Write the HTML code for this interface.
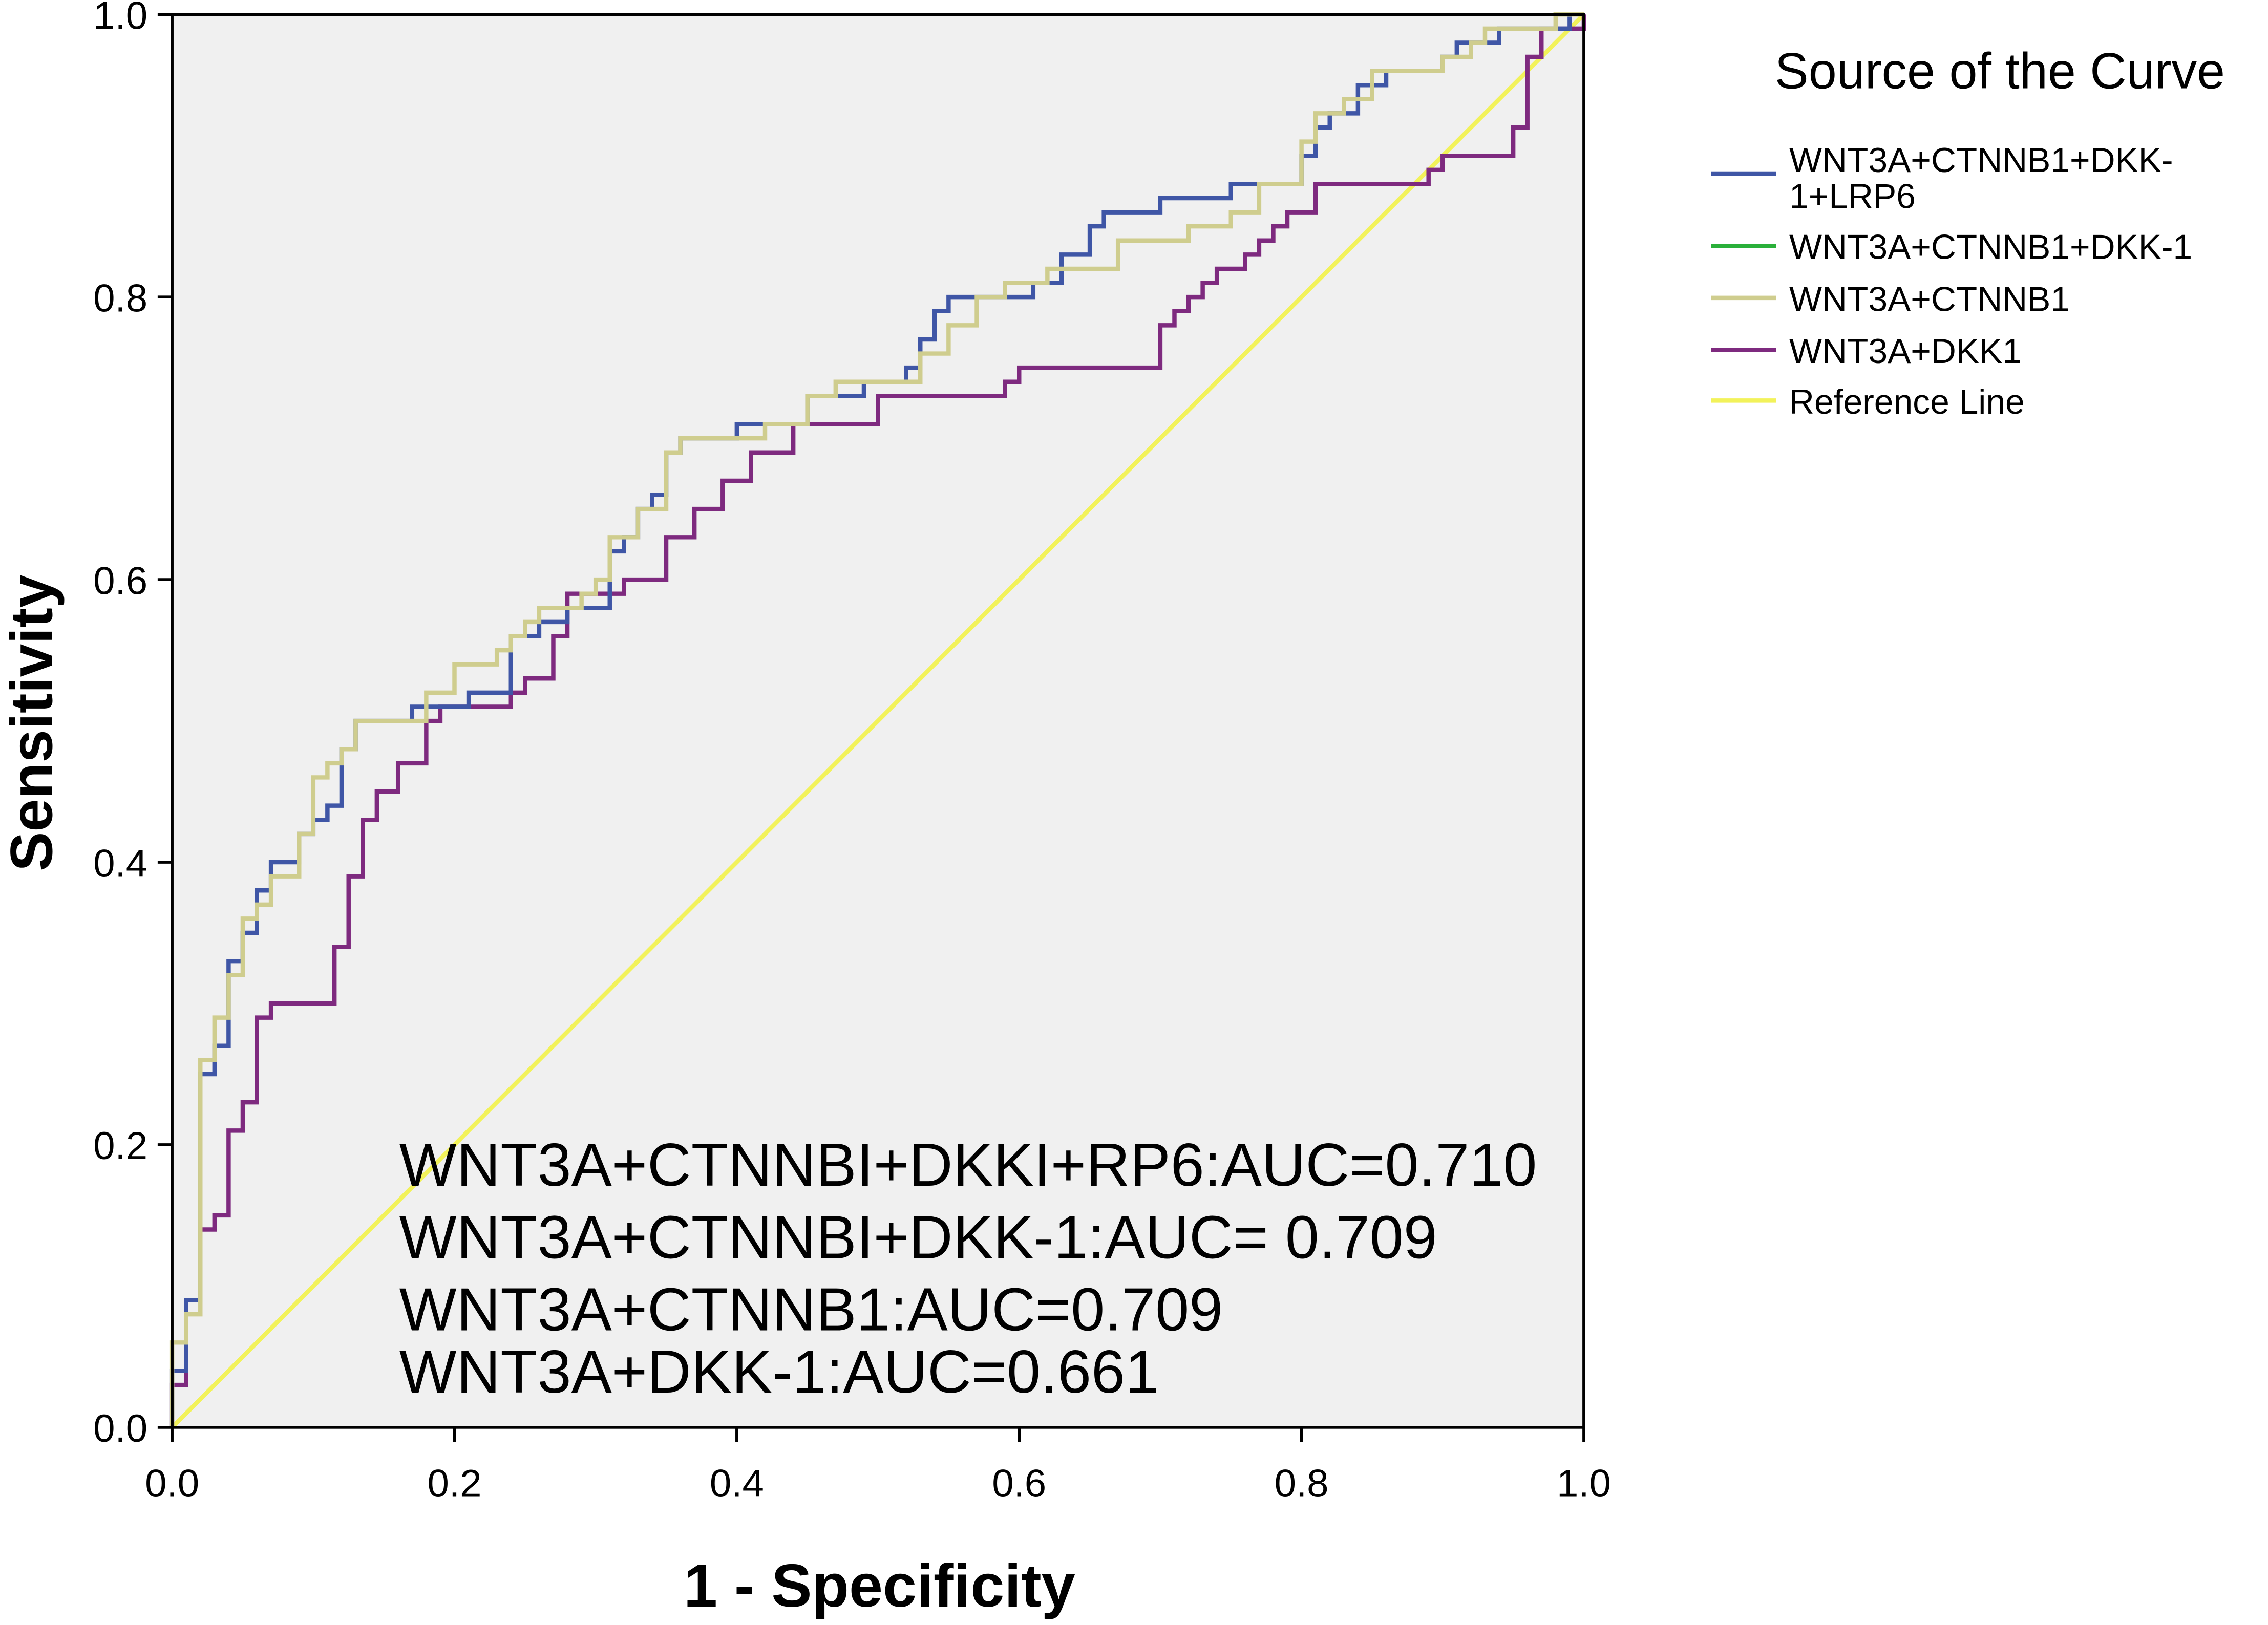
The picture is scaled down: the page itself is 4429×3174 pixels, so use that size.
<!DOCTYPE html>
<html><head><meta charset="utf-8"><style>
html,body{margin:0;padding:0;background:#fff;}
svg{display:block;font-family:"Liberation Sans",Arial,sans-serif;}
</style></head><body>
<svg width="4429" height="3174" viewBox="0 0 1568 1123.7" preserveAspectRatio="none" xmlns="http://www.w3.org/2000/svg">
<rect x="119" y="10" width="976" height="977" fill="#f0f0f0"/>
<g id="curves"></g>
<rect x="119" y="10" width="976" height="977" fill="none" stroke="#000" stroke-width="2"/>
<g id="axes"></g>
<text transform="translate(36,500) rotate(-90)" text-anchor="middle" font-size="41" font-weight="bold">Sensitivity</text>
<text x="608" y="1111" text-anchor="middle" font-size="42" font-weight="bold">1 - Specificity</text>
<g font-size="42" fill="#000">
<text x="276" y="820">WNT3A+CTNNBI+DKKI+RP6:AUC=0.710</text>
<text x="276" y="870">WNT3A+CTNNBI+DKK-1:AUC= 0.709</text>
<text x="276" y="920">WNT3A+CTNNB1:AUC=0.709</text>
<text x="276" y="963">WNT3A+DKK-1:AUC=0.661</text>
</g>
<g font-size="24">
<text x="1227" y="61" font-size="35">Source of the Curve</text>
<line x1="1183" y1="120" x2="1228" y2="120" stroke="#3f56a6" stroke-width="3"/>
<text x="1237" y="119">WNT3A+CTNNB1+DKK-</text>
<text x="1237" y="144">1+LRP6</text>
<line x1="1183" y1="170" x2="1228" y2="170" stroke="#2ab03a" stroke-width="3"/>
<text x="1237" y="179">WNT3A+CTNNB1+DKK-1</text>
<line x1="1183" y1="206" x2="1228" y2="206" stroke="#cfcd8e" stroke-width="3"/>
<text x="1237" y="215">WNT3A+CTNNB1</text>
<line x1="1183" y1="242" x2="1228" y2="242" stroke="#7e2a7f" stroke-width="3"/>
<text x="1237" y="251">WNT3A+DKK1</text>
<line x1="1183" y1="277" x2="1228" y2="277" stroke="#f2f25a" stroke-width="3"/>
<text x="1237" y="286">Reference Line</text>
</g>
</svg>
<script>
const ticks=[0,0.2,0.4,0.6,0.8,1.0];
const tickLabels=["0.0","0.2","0.4","0.6","0.8","1.0"];
const blueFpr=[0,0.01,0.02,0.03,0.04,0.05,0.06,0.07,0.09,0.10,0.11,0.12,0.13,0.17,0.21,0.24,0.26,0.28,0.31,0.32,0.33,0.34,0.35,0.36,0.40,0.45,0.49,0.52,0.53,0.54,0.55,0.61,0.63,0.65,0.66,0.70,0.75,0.80,0.81,0.82,0.84,0.86,0.90,0.91,0.94,0.99,1];
const blueTpr=[0.04,0.09,0.25,0.27,0.33,0.35,0.38,0.40,0.42,0.43,0.44,0.48,0.50,0.51,0.52,0.56,0.57,0.58,0.62,0.63,0.65,0.66,0.69,0.70,0.71,0.73,0.74,0.75,0.77,0.79,0.80,0.81,0.83,0.85,0.86,0.87,0.88,0.90,0.92,0.93,0.95,0.96,0.97,0.98,0.99,1.0,1.0];
const khakiFpr=[0,0.01,0.02,0.03,0.04,0.05,0.06,0.07,0.09,0.10,0.11,0.12,0.13,0.18,0.20,0.23,0.24,0.25,0.26,0.29,0.30,0.31,0.33,0.35,0.36,0.42,0.45,0.47,0.53,0.55,0.57,0.59,0.62,0.67,0.72,0.75,0.77,0.80,0.81,0.83,0.85,0.90,0.92,0.93,0.98,1];
const khakiTpr=[0.06,0.08,0.26,0.29,0.32,0.36,0.37,0.39,0.42,0.46,0.47,0.48,0.50,0.52,0.54,0.55,0.56,0.57,0.58,0.59,0.60,0.63,0.65,0.69,0.70,0.71,0.73,0.74,0.76,0.78,0.80,0.81,0.82,0.84,0.85,0.86,0.88,0.91,0.93,0.94,0.96,0.97,0.98,0.99,1.0,1.0];
const purpleFpr=[0,0.01,0.02,0.03,0.04,0.05,0.06,0.07,0.115,0.125,0.135,0.145,0.16,0.18,0.19,0.24,0.25,0.27,0.28,0.32,0.35,0.37,0.39,0.41,0.44,0.50,0.59,0.60,0.70,0.71,0.72,0.73,0.74,0.76,0.77,0.78,0.79,0.81,0.89,0.90,0.95,0.96,0.97,1];
const purpleTpr=[0.03,0.09,0.14,0.15,0.21,0.23,0.29,0.30,0.34,0.39,0.43,0.45,0.47,0.50,0.51,0.52,0.53,0.56,0.59,0.60,0.63,0.65,0.67,0.69,0.71,0.73,0.74,0.75,0.78,0.79,0.80,0.81,0.82,0.83,0.84,0.85,0.86,0.88,0.89,0.90,0.92,0.97,0.99,1.0];
const NS="http://www.w3.org/2000/svg";
const X=v=>119+976*v, Y=v=>987-977*v;
const curves=document.getElementById('curves'), axes=document.getElementById('axes');
function stepPath(fx,ty){let d="M"+X(0)+","+Y(0);for(let i=0;i<fx.length;i++){d+=" H"+X(fx[i])+" V"+Y(ty[i]);}return d;}
const ref=document.createElementNS(NS,'line');


ref.setAttribute('x1',X(0));ref.setAttribute('y1',Y(0));ref.setAttribute('x2',X(1));ref.setAttribute('y2',Y(1));
ref.setAttribute('stroke','#f2f25a');ref.setAttribute('stroke-width','3');curves.appendChild(ref);
const series=[[purpleFpr,purpleTpr,'#7e2a7f','wnt3a-dkk1-curve'],[blueFpr,blueTpr,'#3f56a6','wnt3a-ctnnb1-dkk1-lrp6-curve'],[blueFpr,blueTpr,'#2ab03a','wnt3a-ctnnb1-dkk1-curve'],[khakiFpr,khakiTpr,'#cfcd8e','wnt3a-ctnnb1-curve']];
series.forEach((s,i)=>{if(i===2)return;const p=document.createElementNS(NS,'path');


p.setAttribute('d',stepPath(s[0],s[1]));p.setAttribute('fill','none');p.setAttribute('stroke',s[2]);p.setAttribute('stroke-width','3');curves.appendChild(p);});
ticks.forEach((t,i)=>{
 const lx=document.createElementNS(NS,'line');
 
 
 lx.setAttribute('x1',X(t));lx.setAttribute('x2',X(t));lx.setAttribute('y1',987);lx.setAttribute('y2',997);lx.setAttribute('stroke','#000');lx.setAttribute('stroke-width','2');axes.appendChild(lx);
 const tx=document.createElementNS(NS,'text');
 
 
 tx.setAttribute('x',X(t));tx.setAttribute('y',1035);tx.setAttribute('text-anchor','middle');tx.setAttribute('font-size','27');tx.textContent=tickLabels[i];axes.appendChild(tx);
 const ly=document.createElementNS(NS,'line');
 
 
 ly.setAttribute('x1',109);ly.setAttribute('x2',119);ly.setAttribute('y1',Y(t));ly.setAttribute('y2',Y(t));ly.setAttribute('stroke','#000');ly.setAttribute('stroke-width','2');axes.appendChild(ly);
 const ty=document.createElementNS(NS,'text');
 
 
 ty.setAttribute('x',102);ty.setAttribute('y',Y(t)+10);ty.setAttribute('text-anchor','end');ty.setAttribute('font-size','27');ty.textContent=tickLabels[i];axes.appendChild(ty);
});
</script>
</body></html>
